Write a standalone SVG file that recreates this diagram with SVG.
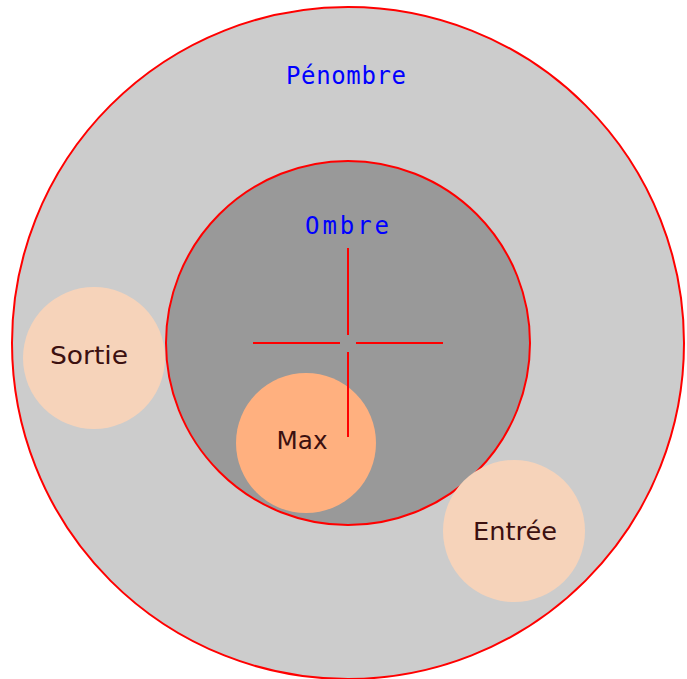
<svg xmlns="http://www.w3.org/2000/svg" width="687" height="679" viewBox="0 0 687 679">
<style>
.ring{stroke:#ff0000;stroke-width:2}
.blue{font-family:"DejaVu Sans Mono","Liberation Mono",monospace;font-size:24px;fill:#0000ff;text-anchor:middle}
.lbl{font-family:"DejaVu Sans","Noto Sans",sans-serif;font-size:25px;fill:#3c1010;text-anchor:middle}
.cross{stroke:#ff0000;stroke-width:2;fill:none}
</style>
<rect width="687" height="679" fill="#ffffff"/>
<g id="penombre">
<circle cx="348" cy="343" r="336" fill="#cccccc" class="ring"/>
<text x="346" y="84" class="blue" textLength="120" lengthAdjust="spacing">Pénombre</text>
</g>
<g id="ombre">
<circle cx="348" cy="343" r="182" fill="#999999" class="ring"/>
<text x="347" y="234" class="blue" textLength="84" lengthAdjust="spacing">Ombre</text>
</g>
<g id="sortie">
<circle cx="94" cy="358" r="71" fill="#f6d3ba"/>
<text x="89" y="364" class="lbl" textLength="78" lengthAdjust="spacingAndGlyphs">Sortie</text>
</g>
<g id="entree">
<circle cx="514" cy="531" r="71" fill="#f6d3ba"/>
<text x="515" y="540" class="lbl" textLength="84" lengthAdjust="spacingAndGlyphs">Entrée</text>
</g>
<g id="max">
<circle cx="306" cy="443" r="70" fill="#ffb07f"/>
<text x="302" y="449" class="lbl" textLength="51" lengthAdjust="spacingAndGlyphs">Max</text>
</g>
<g id="connectors">
<path class="cross" d="M253 343H340M356 343H443M348 248V335M348 352V437"/>
</g>
</svg>
